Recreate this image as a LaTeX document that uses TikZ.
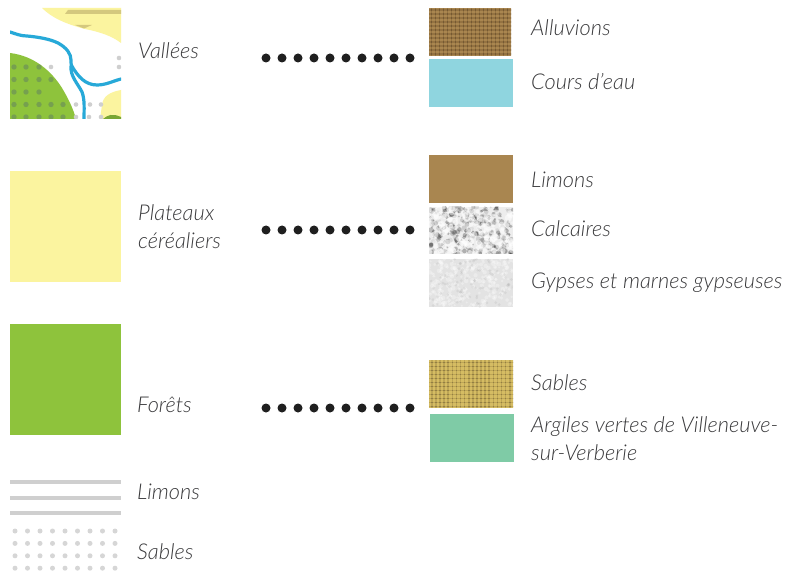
\documentclass[tikz,border=0pt]{standalone}
\usepackage{fontspec}
\setmainfont{Lato}[ItalicFont={Lato Light Italic}]
\definecolor{txt}{HTML}{3A3A3C}
\definecolor{pale}{HTML}{FBF49F}
\definecolor{leaf}{HTML}{8EC33C}
\definecolor{river}{HTML}{27A9D8}
\definecolor{water}{HTML}{8FD5DF}
\definecolor{silt}{HTML}{A98650}
\definecolor{alluv}{HTML}{866638}
\definecolor{sand}{HTML}{D5BC63}
\definecolor{clay}{HTML}{7FCBA6}
\definecolor{hatch}{HTML}{CFCFCF}
\definecolor{stripe}{HTML}{D4C87E}
\definecolor{sandgrid}{HTML}{B39C50}
\definecolor{sanddot}{HTML}{8A7740}
\definecolor{alluvdot}{HTML}{6B5330}
\definecolor{leafdot}{HTML}{76A04F}
\tikzset{
  lbl/.style={font=\itshape\fontsize{21.8pt}{28pt}\selectfont, text=txt, anchor=west, inner sep=0pt, align=left},
  swatch/.style={minimum width=84pt, minimum height=48pt, inner sep=0pt, outer sep=0pt, anchor=north west},
  bigbox/.style={minimum width=111pt, minimum height=111pt, inner sep=0pt, outer sep=0pt, anchor=north west},
  dotrow/.style={line width=9pt, line cap=round, dash pattern=on 0pt off 16pt, color=black!88},
  grey/.style={fill=hatch, draw=none}
}
\begin{document}
\begin{tikzpicture}[x=1pt,y=-1pt]
\useasboundingbox (0,0) rectangle (798,572);
\fill[white] (0,0) rectangle (798,572);

% Vallées vignette
\node[bigbox] (vallees) at (10,8) {};
\begin{scope}
\clip (10,8) rectangle (121,119);
\fill[pale] (42,8) -- (121,8) -- (121,43) .. controls (112,36) and (100,32) .. (85,29) .. controls (66,24) and (52,18) .. (42,8) -- cycle;
\fill[stripe] (65,14) -- (68,10) -- (121,10) -- (121,14) -- cycle;
\fill[stripe] (75,25) -- (92,25) -- (84,28.5) -- cycle;
\fill[pale] (121,90) .. controls (110,92) and (103,96) .. (102,105) -- (100,119) -- (121,119) -- cycle;
\fill[leaf!85!black] (103,119) .. controls (108,115) and (112,113) .. (121,117) -- (121,119) -- cycle;
\fill[leaf] (10,53) .. controls (35,56) and (52,72) .. (62,88) .. controls (68,98) and (73,108) .. (76,119) -- (10,119) -- cycle;
\foreach \px/\py in {14/67,26/67,39/67,14/79.5,26/79.5,39/79.5,51/79.5,14/92,26/92,39/92,14/104.5,26/104.5,39/104.5,51/104.5,63/104.5,14/117,26/117,39/117,51/117,63/117} {
  \fill[leafdot] (\px,\py) circle (2.7pt);
}
\foreach \px/\py in {51/67,76/117,89/117,101/117,76/104.5,90/104.5,101/104.5,119/58,119/67} {
  \fill[hatch] (\px,\py) circle (2.3pt);
}
\draw[river,line width=3.2pt,line cap=round,line join=round] (10,32) .. controls (16,34) and (21,36) .. (27,36) .. controls (38,37) and (50,39) .. (58,43) .. controls (67,48) and (71,54) .. (71,60) .. controls (71,64) and (71,66) .. (73,68) .. controls (78,76) and (85,85) .. (97,85) .. controls (106,85) and (113,81) .. (121,79);
\draw[river,line width=3.2pt,line cap=round] (71,66) .. controls (70,76) and (78,84) .. (82,92) .. controls (85,100) and (84,110) .. (84,119);
\end{scope}

\node[lbl] (tvallees) at (138,51) {Vallées};

% Plateaux, forêts
\node[bigbox, fill=pale] (plateaux) at (10,171) {};
\node[lbl] (tplateaux) at (138,227) {Plateaux\\céréaliers};
\node[bigbox, fill=leaf] (forets) at (10,324) {};
\node[lbl] (tforets) at (137,405) {Forêts};

% Limons (hatch)
\node[minimum width=111pt, minimum height=37pt, inner sep=0pt, anchor=north west] (hlimons) at (10,478) {};
\foreach \y in {482,498,513} \fill[grey] (10,{\y-2}) rectangle (121,{\y+2});
\node[lbl] (tlimonsg) at (137,492) {Limons};

% Sables (dots)
\node[minimum width=111pt, minimum height=44pt, inner sep=0pt, anchor=north west] (dsables) at (10,526) {};
\foreach \i in {0,...,8} \foreach \j in {0,...,3} {
  \fill[hatch!85] ({15+12.5*\i},{531+12.4*\j}) circle (2.5pt);
}
\node[lbl] (tsablesg) at (137,552) {Sables};

% Dotted links
\coordinate (a1) at (266,58); \coordinate (b1) at (412,58);
\coordinate (a2) at (266,230); \coordinate (b2) at (412,230);
\coordinate (a3) at (266,408); \coordinate (b3) at (412,408);
\draw[dotrow] (a1) -- (b1);
\draw[dotrow] (a2) -- (b2);
\draw[dotrow] (a3) -- (b3);

% Alluvions
\node[swatch, minimum width=82pt, fill=silt] (alluvions) at (429,8) {};
\begin{scope}
\clip (429,8) rectangle (511,56);
\foreach \i in {0,...,20} \fill[alluv,opacity=.6] ({430.5+4*\i},8) rectangle ({432.2+4*\i},56);
\foreach \j in {0,...,11} \fill[alluv,opacity=.6] (429,{9.5+4*\j}) rectangle (511,{11.2+4*\j});
\foreach \i in {0,...,20} \foreach \j in {0,...,11} \fill[alluvdot,opacity=.7] ({430.5+4*\i},{9.5+4*\j}) rectangle ({432+4*\i},{11+4*\j});
\end{scope}
\node[lbl] (talluvions) at (531,28) {Alluvions};

\node[swatch, fill=water] (cours) at (429,59) {};
\node[lbl] (tcours) at (531,82) {Cours d’eau};

% Limons
\node[swatch, fill=silt] (limons) at (429,155) {};
\node[lbl] (tlimons) at (531,180) {Limons};

% Calcaires
\node[swatch, minimum height=47pt, fill=gray!14] (calcaires) at (429,207) {};
\begin{scope}
\clip (429,207) rectangle (513,254);
\pgfmathsetseed{41}
\foreach \k in {1,...,320} {
  \pgfmathsetmacro{\px}{429+84*rnd}
  \pgfmathsetmacro{\py}{207+47*rnd}
  \pgfmathsetmacro{\pr}{1+1.8*rnd}
  \pgfmathsetmacro{\po}{6+22*rnd}
  \fill[black,opacity=\po/100] (\px,\py) circle (\pr pt);
}
\foreach \k in {1,...,130} {
  \pgfmathsetmacro{\px}{429+84*rnd}
  \pgfmathsetmacro{\py}{207+47*rnd}
  \pgfmathsetmacro{\pr}{1.5+2.2*rnd}
  \fill[white,opacity=.5] (\px,\py) circle (\pr pt);
}
\end{scope}
\node[lbl] (tcalcaires) at (531,229) {Calcaires};

% Gypses
\node[swatch, fill=gray!22] (gypses) at (429,259) {};
\begin{scope}
\clip (429,259) rectangle (513,307);
\pgfmathsetseed{7}
\foreach \k in {1,...,260} {
  \pgfmathsetmacro{\px}{429+84*rnd}
  \pgfmathsetmacro{\py}{259+48*rnd}
  \pgfmathsetmacro{\pr}{1+1.5*rnd}
  \fill[white,opacity=.3] (\px,\py) circle (\pr pt);
}
\foreach \k in {1,...,90} {
  \pgfmathsetmacro{\px}{429+84*rnd}
  \pgfmathsetmacro{\py}{259+48*rnd}
  \fill[black,opacity=.05] (\px,\py) circle (1.5pt);
}
\end{scope}
\node[lbl] (tgypses) at (531,283) {Gypses et marnes gypseuses};

% Sables
\node[swatch, fill=sand] (sables) at (429,360) {};
\begin{scope}
\clip (429,360) rectangle (513,408);
\foreach \i in {0,...,20} \fill[sandgrid,opacity=.7] ({431+4.1*\i},360) rectangle ({432.6+4.1*\i},408);
\foreach \j in {0,...,11} \fill[sandgrid,opacity=.7] (429,{361.5+4*\j}) rectangle (513,{363.1+4*\j});
\foreach \i in {0,...,20} \foreach \j in {0,...,11} \fill[sanddot,opacity=.8] ({431+4.1*\i},{361.5+4*\j}) rectangle ({432.6+4.1*\i},{363.1+4*\j});
\end{scope}
\node[lbl] (tsables) at (531,383) {Sables};

\node[swatch, fill=clay] (argiles) at (430,414) {};
\node[lbl] (targiles) at (531,439) {Argiles vertes de Villeneuve-\\sur-Verberie};
\end{tikzpicture}
\end{document}
